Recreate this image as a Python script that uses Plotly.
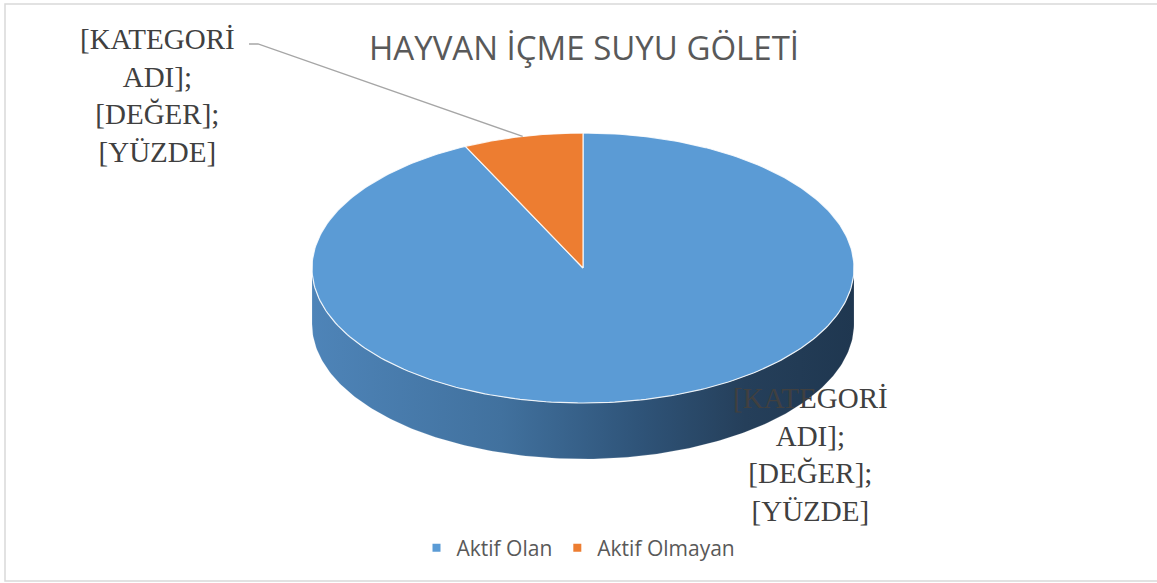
import numpy as np
import plotly.graph_objects as go

# ---- data ----
categories = ["Aktif Olan", "Aktif Olmayan"]
values = [13, 1]
colors = ["#5b9bd5", "#ed7d31"]
title_text = "HAYVAN İÇME SUYU GÖLETİ"
label_text = "[KATEGORİ<br>ADI];<br>[DEĞER];<br>[YÜZDE]"

# ---- geometry (unit pie seen in perspective) ----
TILT = 135 / 271      # vertical squash of the top face
DEPTH = 56 / 271      # thickness of the pie
PX = 271              # pixels per unit
W, H = 1157, 583
CX, CY = 583, 268     # pixel position of the pie centre

fig = go.Figure()

total = float(sum(values))
angles = np.cumsum([0] + [v / total * 360 for v in values])

def top(th):
    r = np.radians(th)
    return np.sin(r), TILT * np.cos(r)

# side faces (front half only visible: 90..270 deg, clockwise from 12 o'clock)
side_scale = [[0, "#4e84b8"], [0.35, "#41719e"], [0.6, "#2f5479"], [0.8, "#253f5a"], [1, "#1f3750"]]
for i, cat in enumerate(categories):
    a0, a1 = max(angles[i], 90), min(angles[i + 1], 270)
    if a1 <= a0:
        continue
    th = np.linspace(a0, a1, 200)
    xs, ys = top(th)
    xb, yb = xs[::-1], ys[::-1] - DEPTH
    fig.add_trace(go.Scatter(
        x=np.concatenate([xs, xb, xs[:1]]), y=np.concatenate([ys, yb, ys[:1]]),
        mode="lines", fill="toself", line=dict(width=0.5, color="rgba(255,255,255,0.3)"),
        fillgradient=dict(type="horizontal", colorscale=side_scale),
        hoverinfo="skip", showlegend=False))

# top faces
for i, cat in enumerate(categories):
    th = np.linspace(angles[i], angles[i + 1], 300)
    xs, ys = top(th)
    fig.add_trace(go.Scatter(
        x=np.concatenate([[0], xs, [0]]), y=np.concatenate([[0], ys, [0]]),
        mode="lines", fill="toself", fillcolor=colors[i],
        line=dict(width=1.2, color="rgba(255,255,255,0.85)"),
        name=cat, hoverinfo="name", showlegend=False))

# legend entries
for i, cat in enumerate(categories):
    fig.add_trace(go.Scatter(x=[None], y=[None], mode="markers", name=cat,
                             marker=dict(symbol="square", size=8, color=colors[i])))

# leader line for the small slice
mid = (angles[1] + angles[2]) / 2
mx, my = top(mid)
lx1, ly1 = (258 - CX) / PX, (CY - 44) / PX
lx0 = (249 - CX) / PX
fig.add_trace(go.Scatter(x=[mx, lx1, lx0], y=[my, ly1, ly1], mode="lines",
                         line=dict(color="#a6a6a6", width=1.3), hoverinfo="skip", showlegend=False))

label_font = dict(family="Liberation Serif", size=29, color="#404040")
fig.add_annotation(x=157 / W, y=1 - 95 / H, xref="paper", yref="paper", text=label_text,
                   showarrow=False, align="center", font=label_font, xanchor="center", yanchor="middle")
fig.add_annotation(x=810 / W, y=1 - 454 / H, xref="paper", yref="paper", text=label_text,
                   showarrow=False, align="center", font=label_font, xanchor="center", yanchor="middle")
fig.add_annotation(x=584 / W, y=1 - 48 / H, xref="paper", yref="paper", text=title_text,
                   showarrow=False, font=dict(family="Open Sans", size=33, color="#595959"),
                   xanchor="center", yanchor="middle")

fig.add_shape(type="rect", xref="paper", yref="paper", x0=5 / W, x1=1.01, y0=1 - 581 / H, y1=1 - 4 / H,
              line=dict(color="#d9d9d9", width=1.5), layer="below")

fig.update_layout(
    width=W, height=H, margin=dict(l=0, r=0, t=0, b=0),
    paper_bgcolor="white", plot_bgcolor="white",
    xaxis=dict(range=[-CX / PX, (W - CX) / PX], visible=False, fixedrange=True),
    yaxis=dict(range=[(CY - H) / PX, CY / PX], visible=False, fixedrange=True),
    legend=dict(orientation="h", x=0.5, xanchor="center", y=1 - 548 / H, yanchor="middle",
                font=dict(family="Open Sans", size=21, color="#595959"), itemwidth=30,
                bgcolor="rgba(0,0,0,0)"),
    showlegend=True,
)

fig.write_html("out.html", config={"displayModeBar": False},
               post_script="document.body.style.margin='0';document.body.style.overflow='hidden';")
